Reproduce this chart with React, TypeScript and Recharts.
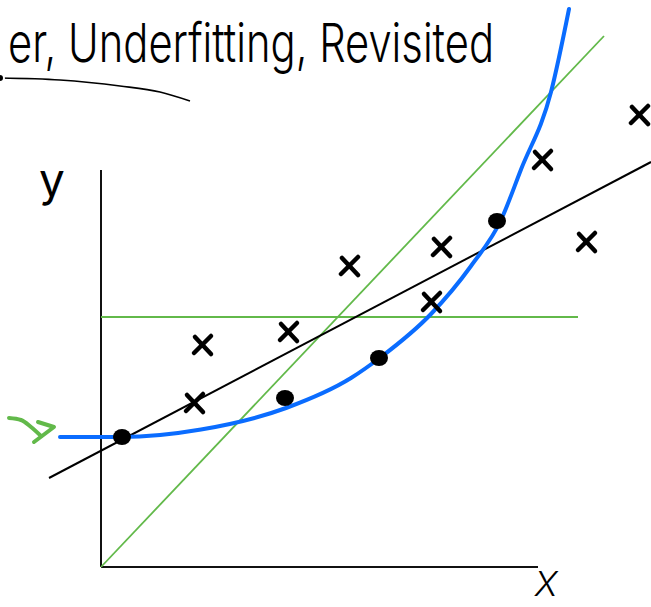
import React from "react";
import {
  ComposedChart,
  Line,
  Scatter,
  XAxis,
  YAxis,
  ReferenceLine,
  Customized,
} from "recharts";

// Sketch coordinates: origin at the axis corner, 1 unit = 50px.
const X_DOMAIN: [number, number] = [-2.02, 11];
const Y_DOMAIN: [number, number] = [-0.8, 11.34];

// Axis extents
const yAxisTop = 7.94;
const xAxisRight = 8.74;

// Labelled training examples (filled dots) and other samples (crosses)
const dotSamples = [
  { x: 0.42, y: 2.6 },
  { x: 3.68, y: 3.38 },
  { x: 5.56, y: 4.18 },
  { x: 7.92, y: 6.92 },
];

const crossSamples = [
  { x: 2.04, y: 4.44 },
  { x: 1.88, y: 3.28 },
  { x: 3.76, y: 4.7 },
  { x: 4.98, y: 6.02 },
  { x: 6.82, y: 6.4 },
  { x: 6.62, y: 5.3 },
  { x: 8.84, y: 8.14 },
  { x: 9.72, y: 6.5 },
  { x: 10.78, y: 9.04 },
];

// Candidate fits
const constantFit = [
  { x: 0, y: 5.0 },
  { x: 9.54, y: 5.0 },
];
const steepFit = [
  { x: 0, y: 0 },
  { x: 10.06, y: 10.62 },
];
const linearFit = [
  { x: -1.04, y: 1.78 },
  { x: 11, y: 8.1 },
];
const curveFit = [
  { x: -0.82, y: 2.6 },
  { x: 0.4, y: 2.6 },
  { x: 2.0, y: 2.75 },
  { x: 3.7, y: 3.18 },
  { x: 5.0, y: 3.78 },
  { x: 5.6, y: 4.2 },
  { x: 6.6, y: 5.06 },
  { x: 7.4, y: 6.02 },
  { x: 8.0, y: 6.94 },
  { x: 8.4, y: 7.95 },
  { x: 9.0, y: 9.5 },
  { x: 9.36, y: 11.16 },
];

// Title underline and pointer arrow
const titleUnderline = [
  { x: -2.02, y: 9.78 },
  { x: -0.82, y: 9.74 },
  { x: 0.38, y: 9.62 },
  { x: 1.18, y: 9.5 },
  { x: 1.78, y: 9.32 },
];
const arrowShaft = [
  { x: -1.84, y: 2.98 },
  { x: -1.6, y: 2.94 },
  { x: -1.4, y: 2.8 },
  { x: -1.2, y: 2.62 },
];
const arrowHead = [
  { x: -1.26, y: 2.9 },
  { x: -0.94, y: 2.8 },
  { x: -1.34, y: 2.5 },
];

const titleText = "er, Underfitting, Revisited";
const yLabel = "y";
const xLabel = "X";

const GREEN = "#62b94a";
const BLUE = "#0a6cff";

const DotShape = (props: any) => {
  const { cx, cy } = props;
  return <ellipse cx={cx} cy={cy} rx={9} ry={8} fill="#000" />;
};

const CrossShape = (props: any) => {
  const { cx, cy } = props;
  const d = `M ${cx - 8} ${cy - 8} L ${cx + 8} ${cy + 9} M ${cx + 8} ${cy - 9} Q ${cx + 1} ${cy - 2} ${cx - 9} ${cy + 8}`;
  return (
    <path d={d} stroke="#000" strokeWidth={4.5} strokeLinecap="round" fill="none" />
  );
};

const Labels = () => (
  <g>
    <text
      x={8}
      y={62}
      fontFamily="Inter, 'DejaVu Sans', sans-serif"
      fontWeight={300}
      fontSize={54}
      textLength={486}
      lengthAdjust="spacingAndGlyphs"
      fill="#000"
    >
      {titleText}
    </text>
    <text
      x={52}
      y={196}
      textAnchor="middle"
      fontFamily="Inter, 'DejaVu Sans', sans-serif"
      fontWeight={400}
      fontSize={46}
      fill="#000"
    >
      {yLabel}
    </text>
    <text
      x={546}
      y={596}
      textAnchor="middle"
      fontFamily="Inter, 'DejaVu Sans', sans-serif"
      fontStyle="italic"
      fontWeight={300}
      fontSize={34}
      fill="#000"
    >
      {xLabel}
    </text>
  </g>
);

export default function App() {
  return (
    <div style={{ position: "absolute", left: 0, top: 0, background: "#fff" }}>
      <ComposedChart
        width={651}
        height={607}
        margin={{ top: 0, right: 0, bottom: 0, left: 0 }}
      >
        <XAxis type="number" dataKey="x" domain={X_DOMAIN} hide allowDataOverflow />
        <YAxis type="number" dataKey="y" domain={Y_DOMAIN} hide allowDataOverflow />

        <ReferenceLine
          segment={[{ x: 0, y: 0 }, { x: 0, y: yAxisTop }]}
          stroke="#111"
          strokeWidth={2}
        />
        <ReferenceLine
          segment={[{ x: 0, y: 0 }, { x: xAxisRight, y: 0 }]}
          stroke="#111"
          strokeWidth={2}
        />

        <Line data={constantFit} dataKey="y" type="linear" stroke={GREEN} strokeWidth={1.8} dot={false} isAnimationActive={false} />
        <Line data={steepFit} dataKey="y" type="linear" stroke={GREEN} strokeWidth={1.8} dot={false} isAnimationActive={false} />
        <Line data={linearFit} dataKey="y" type="linear" stroke="#000" strokeWidth={2} dot={false} isAnimationActive={false} />

        <Scatter data={dotSamples} shape={DotShape} isAnimationActive={false} />
        <Scatter data={crossSamples} shape={CrossShape} isAnimationActive={false} />

        <Line data={curveFit} dataKey="y" type="monotone" stroke={BLUE} strokeWidth={4} strokeLinecap="round" dot={false} isAnimationActive={false} />

        <Line data={titleUnderline} dataKey="y" type="monotone" stroke="#000" strokeWidth={1.6} dot={false} isAnimationActive={false} />
        <Line data={arrowShaft} dataKey="y" type="monotone" stroke={GREEN} strokeWidth={4} strokeLinecap="round" dot={false} isAnimationActive={false} />
        <Line data={arrowHead} dataKey="y" type="linear" stroke={GREEN} strokeWidth={4} strokeLinecap="round" strokeLinejoin="round" dot={false} isAnimationActive={false} />

        <Customized component={Labels} />
      </ComposedChart>
    </div>
  );
}
